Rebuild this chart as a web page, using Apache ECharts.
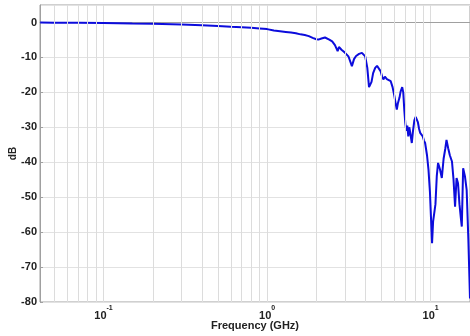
<!DOCTYPE html>
<html>
<head>
<meta charset="utf-8">
<script src="https://cdn.jsdelivr.net/npm/echarts@6/dist/echarts.min.js"></script>
<style>
html, body { margin: 0; padding: 0; background: #fff; }
#chart { width: 470px; height: 336px; }
</style>
</head>
<body>
<div id="chart"></div>
<script>
var freqGHz = [
    0.041, 0.05, 0.07, 0.1, 0.15, 0.2, 0.3, 0.4, 0.5, 0.6, 0.7, 0.8, 0.9, 1.0,
    1.1, 1.2, 1.3, 1.4, 1.5, 1.6, 1.7, 1.8, 1.9, 2.0, 2.06, 2.15, 2.26, 2.4, 2.5,
    2.6, 2.7, 2.75, 2.85, 2.95, 3.07, 3.15, 3.3, 3.4, 3.5, 3.65, 3.8, 3.9, 3.98,
    4.1, 4.2, 4.27, 4.35, 4.45, 4.58, 4.7, 4.8, 4.95, 5.05, 5.14, 5.25, 5.4, 5.55,
    5.7, 5.85, 6.0, 6.1, 6.21, 6.3, 6.45, 6.55, 6.7, 6.8, 6.9, 7.0, 7.1, 7.2, 7.3,
    7.4, 7.5, 7.67, 7.8, 7.95, 8.1, 8.22, 8.35, 8.5, 8.63, 8.8, 8.95, 9.1, 9.25,
    9.5, 9.7, 9.9, 10.05, 10.2, 10.35, 10.5, 10.7, 10.9, 11.1, 11.4, 11.7, 12.0,
    12.3, 12.5, 12.8, 13.1, 13.5, 13.8, 14.1, 14.4, 14.7, 15.0, 15.3, 15.5, 15.8,
    16.2, 16.6, 17.0, 17.4
];
var magDB = [
    0.0, -0.05, -0.1, -0.15, -0.3, -0.4, -0.6, -0.8, -1.0, -1.2, -1.35, -1.5, -1.7, -1.9,
    -2.3, -2.5, -2.7, -2.9, -3.1, -3.4, -3.6, -3.9, -4.4, -4.8, -4.9, -4.6, -4.3, -4.9, -5.4,
    -6.5, -8.2, -7.0, -7.8, -8.4, -9.2, -9.8, -12.5, -10.5, -9.6, -9.0, -8.7, -9.0, -9.7,
    -13, -18.5, -19.0, -17, -14.5, -13.0, -12.4, -12.8, -14.0, -15.5, -16.3, -15.5, -16.2, -16.0,
    -16.8, -18.5, -21, -23, -24.9, -23.2, -21.5, -19.8, -18.5, -20, -25, -28.8, -31, -29.5, -32.6,
    -30, -31.5, -34.5, -31, -28, -27, -26.9, -28.5, -30.5, -31.6, -32.0, -32.6, -33.8, -34.5,
    -38, -42.1, -48.5, -56, -63.2, -57, -56.5, -52, -44, -40.2, -42, -44.5, -39,
    -36, -33.6, -36, -38, -39.8, -45, -52.7, -44.5, -46, -52, -56, -58.4, -41.7,
    -44, -47.9, -62, -79
];
var yTicks = [-80, -70, -60, -50, -40, -30, -20, -10, 0];
// minor log-decade grid lines (2..9 x 10^n)
var minorGrid = [0.05, 0.06, 0.07, 0.08, 0.09,
    0.2, 0.3, 0.4, 0.5, 0.6, 0.7, 0.8, 0.9,
    2, 3, 4, 5, 6, 7, 8, 9];

var chart = echarts.init(document.getElementById('chart'));
var sup = { '0.1': '-1', '1': '0', '10': '1' };
var option = {
    animation: false,
    grid: {
        left: 40, right: 0, top: 5, bottom: 34,
        containLabel: false,
        outerBoundsMode: 'none',
        show: true, borderColor: '#a0a0a0', borderWidth: 1
    },
    xAxis: {
        type: 'log',
        logBase: 10,
        min: 0.0409,
        max: 17.4,
        name: 'Frequency (GHz)',
        nameLocation: 'middle',
        nameGap: 18,
        nameMoveOverlap: false,
        nameTextStyle: { fontFamily: 'Liberation Sans', fontWeight: 'bold', fontSize: 11, color: '#222' },
        axisLine: { show: true, lineStyle: { color: '#a0a0a0' } },
        axisTick: { show: false },
        splitLine: { show: true, lineStyle: { color: '#dcdcdc', width: 1 } },
        axisLabel: {
            margin: 3,
            showMinLabel: false,
            showMaxLabel: false,
            formatter: function (v) {
                var key = String(+v.toPrecision(3));
                if (!sup[key]) return '';
                return '{b|10}{s|' + sup[key] + '}';
            },
            rich: {
                b: { fontFamily: 'Liberation Sans', fontWeight: 'bold', fontSize: 11, color: '#222', lineHeight: 16, verticalAlign: 'bottom' },
                s: { fontFamily: 'Liberation Sans', fontWeight: 'bold', fontSize: 7, color: '#222', lineHeight: 16, verticalAlign: 'top' }
            }
        }
    },
    yAxis: {
        type: 'value',
        min: -80,
        max: 5,
        interval: 10,
        name: 'dB',
        nameLocation: 'middle',
        nameGap: 22,
        nameMoveOverlap: false,
        nameTextStyle: { fontFamily: 'Liberation Sans', fontWeight: 'bold', fontSize: 10, color: '#222' },
        axisLine: { show: true, lineStyle: { color: '#a0a0a0' } },
        axisTick: { show: true, inside: true, length: 3, lineStyle: { color: '#a0a0a0' } },
        splitLine: { show: true, lineStyle: { color: '#e2e2e2', width: 1 } },
        axisLabel: {
            margin: 3,
            showMaxLabel: false,
            fontFamily: 'Liberation Sans',
            fontWeight: 'bold',
            fontSize: 11,
            color: '#222',
            formatter: function (v) { return yTicks.indexOf(v) >= 0 ? String(v) : ''; }
        }
    },
    series: [{
        type: 'line',
        data: freqGHz.map(function (f, i) { return [f, magDB[i]]; }),
        showSymbol: false,
        clip: true,
        lineStyle: { color: '#0c0cdc', width: 2 },
        markLine: {
            silent: true,
            symbol: 'none',
            label: { show: false },
            lineStyle: { color: '#dcdcdc', type: 'solid', width: 1 },
            data: minorGrid.map(function (g) { return { xAxis: g }; })
        },
        z: 3
    }]
};
chart.setOption(option);
</script>
</body>
</html>
